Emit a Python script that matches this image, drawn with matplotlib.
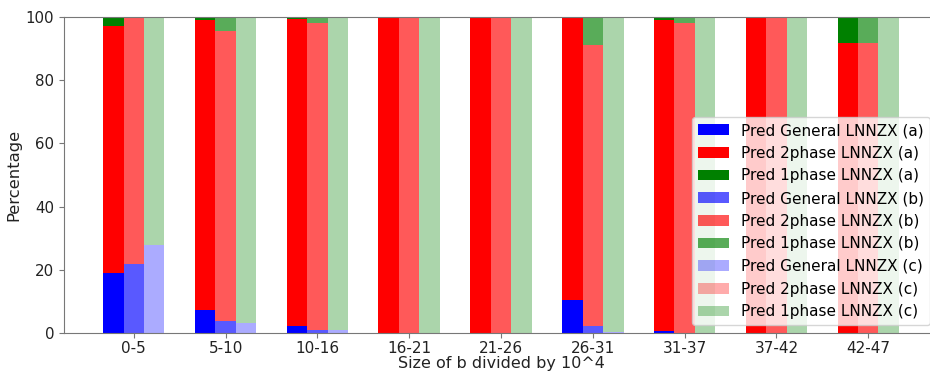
import numpy as np
import matplotlib.pyplot as plt

groups = ["0-5", "5-10", "10-16", "16-21", "21-26", "26-31", "31-37", "37-42", "42-47"]

# percentages per size bin, for three models (a), (b), (c)
general_a = [19.1, 7.3, 2.2, 0, 0, 10.4, 0.7, 0, 0]
twophase_a = [78.1, 91.7, 97.1, 100, 100, 89.2, 98.5, 100, 91.7]
onephase_a = [2.8, 1.0, 0.7, 0, 0, 0.4, 0.8, 0, 8.3]

general_b = [21.8, 3.9, 1.0, 0, 0, 2.2, 0, 0, 0]
twophase_b = [77.8, 91.7, 97.0, 100, 100, 88.9, 98.0, 100, 91.7]
onephase_b = [0.4, 4.4, 2.0, 0, 0, 8.9, 2.0, 0, 8.3]

general_c = [27.8, 3.2, 1.0, 0, 0, 0.4, 0, 0, 0]
twophase_c = [0, 0, 0, 0, 0, 0, 0, 0, 0]
onephase_c = [72.2, 96.8, 99.0, 100, 100, 99.6, 100, 100, 100]

series = [
    ("(a)", general_a, twophase_a, onephase_a, 1.0),
    ("(b)", general_b, twophase_b, onephase_b, 0.65),
    ("(c)", general_c, twophase_c, onephase_c, 0.33),
]

fig = plt.figure(figsize=(9.3, 3.72), dpi=100)
ax = fig.add_axes([64 / 930, 1 - 333 / 372, (938 - 64) / 930, (333 - 17) / 372])

x = np.arange(len(groups))
w = 0.223
for i, (tag, gen, two, one, a) in enumerate(series):
    xs = x + (i - 1) * w
    gen = np.array(gen); two = np.array(two); one = np.array(one)
    ax.bar(xs, gen, w, color="blue", alpha=a, label=f"Pred General LNNZX {tag}")
    ax.bar(xs, two, w, bottom=gen, color="red", alpha=a, label=f"Pred 2phase LNNZX {tag}")
    ax.bar(xs, one, w, bottom=gen + two, color="green", alpha=a, label=f"Pred 1phase LNNZX {tag}")

ax.set_xlim(-0.76, 8.76)
ax.set_ylim(0, 100)
ax.set_xticks(x)
ax.set_xticklabels(groups)
ax.tick_params(colors="#777777", labelcolor="#222222")
ax.tick_params(axis="x", labelsize=11, pad=2.5)
ax.tick_params(axis="y", labelsize=10.8)
for s in ax.spines.values():
    s.set_color("#777777")
ax.set_xlabel("Size of b divided by 10^4", fontsize=11.5, color="#222222", labelpad=0)
ax.set_ylabel("Percentage", fontsize=11.8, color="#222222", labelpad=3)
ax.legend(loc="lower right", fontsize=11, framealpha=0.8, handlelength=2.0)

fig.savefig("out.png", dpi=100)
